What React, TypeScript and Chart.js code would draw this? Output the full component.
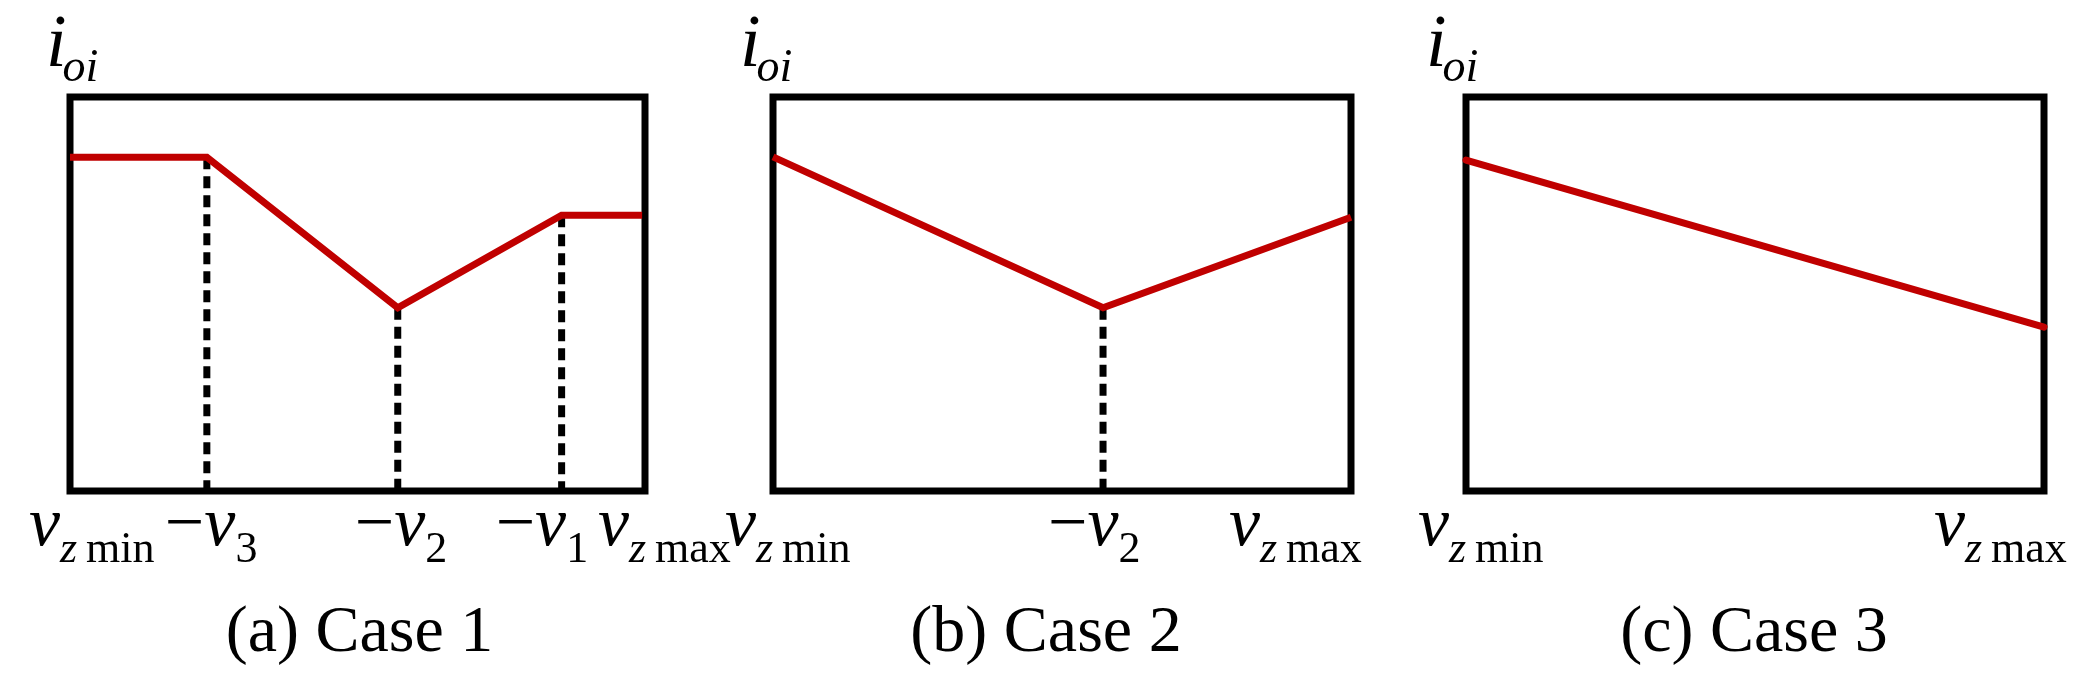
import React, { useEffect, useRef } from "react";
import { Chart, registerables } from "chart.js";

Chart.register(...registerables);

const W = 2079;
const H = 688;

// ---------- data (x: vz scaled 0..100 from vzmin to vzmax, y: ioi scaled 0..100) ----------
const case1X = [0, 23.8, 57.0, 85.5, 99.5];
const case1Y = [84.7, 84.7, 46.5, 70.0, 70.0];
const case1GuideIdx = [1, 2, 3];
const case1Ticks = [0, 23.8, 57.0, 85.5, 100];
const case1TickLabels = ["v_z min", "−v_3", "−v_2", "−v_1", "v_z max"];

const case2X = [0, 57.1, 100];
const case2Y = [84.8, 46.5, 69.5];
const case2GuideIdx = [1];
const case2Ticks = [0, 57.1, 100];
const case2TickLabels = ["v_z min", "−v_2", "v_z max"];

const case3X = [0, 100];
const case3Y = [84.0, 41.6];
const case3GuideIdx: number[] = [];
const case3Ticks = [0, 100];
const case3TickLabels = ["v_z min", "v_z max"];

const yAxisLabel = "i_oi";
const captions = ["(a) Case 1", "(b) Case 2", "(c) Case 3"];

// ---------- layout / style ----------
const RED = "#C00000";
const SERIF = '"Liberation Serif", "Times New Roman", serif';

type PanelCfg = {
  xs: number[];
  ys: number[];
  guides: number[];
  ticks: number[];
  tickLabels: string[];
  caption: string;
  box: { left: number; right: number; top: number; bottom: number };
  tickOffsets: number[];
  yLabelOffset: number;
  captionOffset: number;
  cap: CanvasLineCap;
};

const panels: PanelCfg[] = [
  {
    xs: case1X, ys: case1Y, guides: case1GuideIdx, ticks: case1Ticks, tickLabels: case1TickLabels,
    caption: captions[0],
    box: { left: 70, right: 645, top: 97, bottom: 491 },
    tickOffsets: [-41, -42, -43, -66, -47],
    yLabelOffset: -24, captionOffset: 2, cap: "butt",
  },
  {
    xs: case2X, ys: case2Y, guides: case2GuideIdx, ticks: case2Ticks, tickLabels: case2TickLabels,
    caption: captions[1],
    box: { left: 773, right: 1351, top: 97, bottom: 491 },
    tickOffsets: [-48, -55, -122],
    yLabelOffset: -33, captionOffset: -16, cap: "butt",
  },
  {
    xs: case3X, ys: case3Y, guides: case3GuideIdx, ticks: case3Ticks, tickLabels: case3TickLabels,
    caption: captions[2],
    box: { left: 1466, right: 2044, top: 97, bottom: 491 },
    tickOffsets: [-48, -110],
    yLabelOffset: -40, captionOffset: -1, cap: "round",
  },
];

function font(size: number, italic: boolean) {
  return `${italic ? "italic " : ""}${size}px ${SERIF}`;
}

function drawMath(
  ctx: CanvasRenderingContext2D,
  label: string,
  x: number,
  baseline: number,
  mainSize: number,
  subSize: number,
  subDrop: number,
  subGap: number
) {
  const [main, sub] = label.split("_");
  let cx = x;
  for (const ch of main) {
    const it = /[a-z]/i.test(ch);
    ctx.font = font(mainSize, it);
    ctx.fillText(ch, cx, baseline);
    cx += ctx.measureText(ch).width;
  }
  if (sub) {
    cx += subGap;
    const words = sub.split(" ");
    words.forEach((w, i) => {
      if (i > 0) {
        ctx.font = font(subSize, false);
        cx += ctx.measureText(" ").width * 0.8;
      }
      const it = /^[a-z]+$/i.test(w) && w !== "min" && w !== "max";
      ctx.font = font(subSize, it);
      ctx.fillText(w, cx, baseline + subDrop);
      cx += ctx.measureText(w).width;
    });
  }
}

function Panel({ cfg }: { cfg: PanelCfg }) {
  const ref = useRef<HTMLCanvasElement | null>(null);
  useEffect(() => {
    const canvas = ref.current;
    if (!canvas) return;
    const { xs, ys, guides, box } = cfg;

    const datasets: any[] = [
      {
        data: xs.map((x, i) => ({ x, y: ys[i] })),
        borderColor: RED,
        borderWidth: 7,
        pointRadius: 0,
        tension: 0,
        borderCapStyle: cfg.cap,
        borderJoinStyle: "miter",
        clip: false,
        fill: false,
      },
      ...guides.map((gi) => ({
        data: [
          { x: xs[gi], y: ys[gi] },
          { x: xs[gi], y: 0 },
        ],
        borderColor: "#000000",
        borderWidth: 7,
        borderDash: [12, 7],
        borderCapStyle: "butt",
        pointRadius: 0,
        tension: 0,
        clip: false,
        fill: false,
      })),
    ];

    const framePlugin = {
      id: "frame" + cfg.caption.replace(/\W/g, ""),
      beforeDatasetsDraw(chart: any) {
        const { ctx, chartArea } = chart;
        ctx.save();
        ctx.strokeStyle = "#000";
        ctx.lineWidth = 7;
        ctx.lineJoin = "miter";
        ctx.strokeRect(chartArea.left, chartArea.top, chartArea.right - chartArea.left, chartArea.bottom - chartArea.top);
        ctx.restore();
      },
      afterDraw(chart: any) {
        const { ctx, chartArea, scales } = chart;
        ctx.save();
        ctx.fillStyle = "#000";
        ctx.textBaseline = "alphabetic";
        ctx.textAlign = "left";
        cfg.ticks.forEach((t, i) => {
          const px = scales.x.getPixelForValue(t);
          drawMath(ctx, cfg.tickLabels[i], px + cfg.tickOffsets[i], 545, 70, 44, 17, 0);
        });
        drawMath(ctx, yAxisLabel, chartArea.left + cfg.yLabelOffset, 66, 74, 46, 15, -4);
        ctx.font = font(66, false);
        ctx.textAlign = "center";
        ctx.fillText(cfg.caption, (chartArea.left + chartArea.right) / 2 + cfg.captionOffset, 651);
        ctx.restore();
      },
    };

    const chart = new Chart(canvas, {
      type: "line",
      data: { datasets },
      options: {
        responsive: false,
        animation: false,
        devicePixelRatio: 1,
        events: [],
        layout: {
          padding: { left: box.left, right: W - box.right, top: box.top, bottom: H - box.bottom },
        },
        scales: {
          x: { type: "linear", min: 0, max: 100, display: false },
          y: { type: "linear", min: 0, max: 100, display: false },
        },
        plugins: { legend: { display: false }, tooltip: { enabled: false } },
      },
      plugins: [framePlugin],
    } as any);
    return () => chart.destroy();
  }, [cfg]);
  return (
    <canvas
      ref={ref}
      width={W}
      height={H}
      style={{ position: "absolute", left: 0, top: 0, width: W, height: H }}
    />
  );
}

export default function App() {
  return (
    <div style={{ position: "absolute", left: 0, top: 0, width: W, height: H, background: "#fff", overflow: "hidden" }}>
      {panels.map((p, i) => (
        <Panel key={i} cfg={p} />
      ))}
    </div>
  );
}
